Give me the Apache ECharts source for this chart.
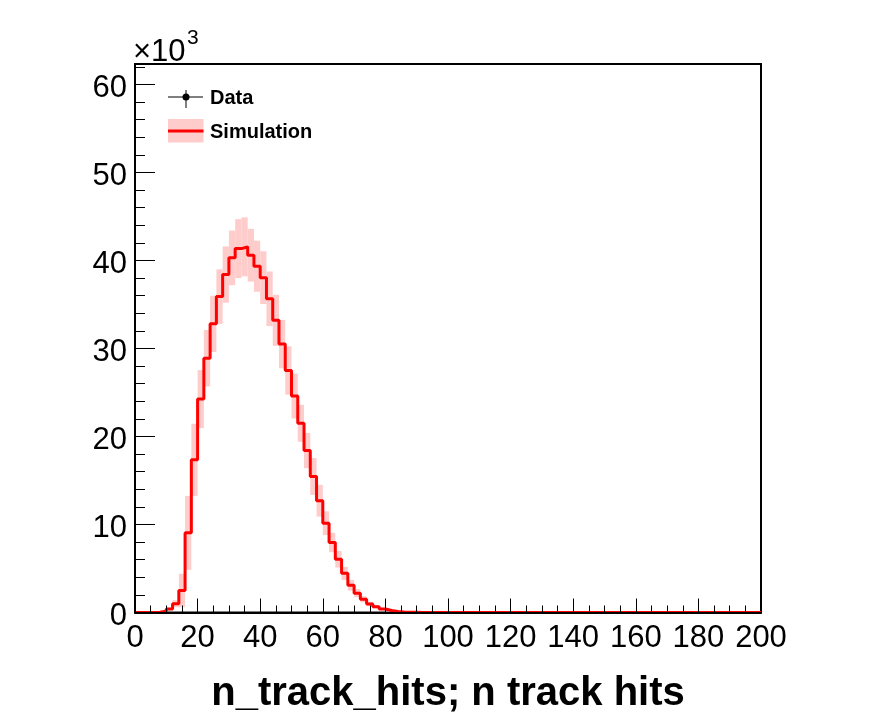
<!DOCTYPE html>
<html>
<head>
<meta charset="utf-8">
<script src="https://cdn.jsdelivr.net/npm/echarts@6/dist/echarts.min.js"></script>
<style>
    html, body { margin: 0; padding: 0; background: #fff; }
    #chart { width: 896px; height: 722px; }
</style>
</head>
<body>
<div id="chart"></div>
<script type="text/javascript">

    // histogram binning: 100 bins of width 2 from 0 to 200
    var binWidth = 2;
    var nBins = 100;

    // simulation bin contents, in units of 10^3
    var simValues = [
        0, 0, 0, 0.02, 0.15, 0.4, 1.0, 2.5, 9.05, 17.35,
        24.25, 28.9, 32.8, 35.9, 38.4, 40.3, 41.35, 41.55, 40.6, 39.35,
        38.05, 35.65, 33.2, 30.5, 27.5, 24.6, 21.5, 18.4, 15.45, 12.7,
        10.15, 7.95, 6.05, 4.45, 3.1, 2.2, 1.5, 0.97, 0.66, 0.4,
        0.22, 0.12, 0.06, 0.03, 0.015, 0, 0, 0, 0, 0,
        0, 0, 0, 0, 0, 0, 0, 0, 0, 0,
        0, 0, 0, 0, 0, 0, 0, 0, 0, 0,
        0, 0, 0, 0, 0, 0, 0, 0, 0, 0,
        0, 0, 0, 0, 0, 0, 0, 0, 0, 0,
        0, 0, 0, 0, 0, 0, 0, 0, 0, 0
    ];

    // simulation uncertainty (half height of the band), in units of 10^3
    var simErrors = [
        0, 0, 0, 0.01, 0.05, 0.15, 0.4, 1.9, 4.2, 4.1,
        3.3, 3.2, 3.2, 3.1, 3.2, 3.1, 3.35, 3.35, 3.0, 2.9,
        3.0, 3.1, 2.9, 2.75, 2.75, 2.55, 2.1, 2.0, 2.1, 1.8,
        1.35, 1.1, 0.95, 0.75, 0.6, 0.45, 0.35, 0.25, 0.18, 0.12,
        0.07, 0.04, 0.02, 0.01, 0.01, 0, 0, 0, 0, 0,
        0, 0, 0, 0, 0, 0, 0, 0, 0, 0,
        0, 0, 0, 0, 0, 0, 0, 0, 0, 0,
        0, 0, 0, 0, 0, 0, 0, 0, 0, 0,
        0, 0, 0, 0, 0, 0, 0, 0, 0, 0,
        0, 0, 0, 0, 0, 0, 0, 0, 0, 0
    ];

    // data points (none drawn in this plot)
    var dataValues = [];

    var xTicks = [0, 20, 40, 60, 80, 100, 120, 140, 160, 180, 200];
    var yMax = 62.33;

    var FONT = "'Liberation Sans', Arial, Helvetica, sans-serif";

    // step outline and band boxes built from the bins
    var stepLine = [];
    var bandBoxes = [];
    for (var i = 0; i < nBins; i++) {
        var lo = i * binWidth, hi = (i + 1) * binWidth;
        stepLine.push([lo, simValues[i]]);
        stepLine.push([hi, simValues[i]]);
        if (simErrors[i] > 0) {
            bandBoxes.push([lo, hi, simValues[i] - simErrors[i], simValues[i] + simErrors[i]]);
        }
    }

    function isMajor(v) {
        return Math.abs(v - Math.round(v / 10) * 10) < 1e-6;
    }

    var chart = echarts.init(document.getElementById('chart'), null, {renderer: 'canvas'});
    chart.setOption({
        animation: false,
        backgroundColor: '#fff',
        grid: {
            left: 135, right: 135, top: 64, bottom: 109.5,
            show: true, borderColor: '#000', borderWidth: 2, backgroundColor: 'transparent'
        },
        xAxis: {
            type: 'value',
            min: xTicks[0], max: xTicks[xTicks.length - 1], interval: 20,
            offset: 1,
            z: 5,
            axisLine: {show: true, lineStyle: {color: '#000', width: 2}},
            axisTick: {show: true, inside: true, length: 14, lineStyle: {color: '#000', width: 1}},
            minorTick: {show: true, splitNumber: 4, length: 7, lineStyle: {color: '#000', width: 1}},
            splitLine: {show: false},
            axisLabel: {color: '#000', fontSize: 31, fontFamily: FONT, margin: 9},
            name: 'n_track_hits; n track hits',
            nameLocation: 'middle',
            nameGap: 60,
            nameTextStyle: {color: '#000', fontSize: 40, fontWeight: 'bold', fontFamily: FONT}
        },
        yAxis: [{
            type: 'value',
            min: 0, max: yMax, interval: 10,
            axisLine: {show: false},
            axisTick: {show: true, inside: true, length: 20, lineStyle: {color: '#000', width: 1}},
            splitLine: {show: false},
            axisLabel: {
                margin: 8,
                formatter: function (v) { return isMajor(v) ? '{n|' + Math.round(v) + '}' : ''; },
                rich: {
                    n: {color: '#000', fontSize: 31, fontFamily: FONT, padding: [7, 0, 0, 0]}
                }
            }
        }, {
            type: 'value',
            min: 0, max: yMax, interval: 2,
            position: 'left',
            axisLine: {show: false},
            axisTick: {show: true, inside: true, length: 10, lineStyle: {color: '#000', width: 1}},
            splitLine: {show: false},
            axisLabel: {show: false}
        }],
        graphic: [
            {type: 'text', left: 133, top: 37, style: {text: '×10', font: '31px ' + FONT, fill: '#000'}},
            {type: 'text', left: 187, top: 28, style: {text: '3', font: '21px ' + FONT, fill: '#000'}},
            {type: 'line', shape: {x1: 168, y1: 97, x2: 203, y2: 97}, style: {stroke: '#000', lineWidth: 1}},
            {type: 'line', shape: {x1: 186, y1: 90, x2: 186, y2: 108}, style: {stroke: '#000', lineWidth: 1}},
            {type: 'circle', shape: {cx: 186, cy: 97, r: 3.5}, style: {fill: '#000'}},
            {type: 'text', x: 210, y: 98, style: {text: 'Data', font: 'bold 20px ' + FONT, fill: '#000', textVerticalAlign: 'middle'}},
            {type: 'rect', shape: {x: 168, y: 119, width: 35.5, height: 23.5}, style: {fill: '#ffcccc'}},
            {type: 'line', shape: {x1: 168, y1: 131, x2: 203.5, y2: 131}, style: {stroke: '#ff0000', lineWidth: 3}},
            {type: 'text', x: 210, y: 132, style: {text: 'Simulation', font: 'bold 20px ' + FONT, fill: '#000', textVerticalAlign: 'middle'}}
        ],
        series: [{
            name: 'Simulation band',
            type: 'custom',
            z: 1,
            data: bandBoxes,
            renderItem: function (params, api) {
                var p0 = api.coord([api.value(0), api.value(3)]);
                var p1 = api.coord([api.value(1), api.value(2)]);
                return {
                    type: 'rect',
                    shape: {x: p0[0], y: p0[1], width: p1[0] - p0[0], height: p1[1] - p0[1]},
                    style: {fill: '#ffcccc'}
                };
            }
        }, {
            name: 'Simulation',
            type: 'line',
            z: 2,
            data: stepLine,
            symbol: 'none',
            lineStyle: {color: '#ff0000', width: 3}
        }, {
            name: 'Data',
            type: 'scatter',
            data: dataValues,
            itemStyle: {color: '#000'}
        }]
    });
</script>
</body>
</html>
